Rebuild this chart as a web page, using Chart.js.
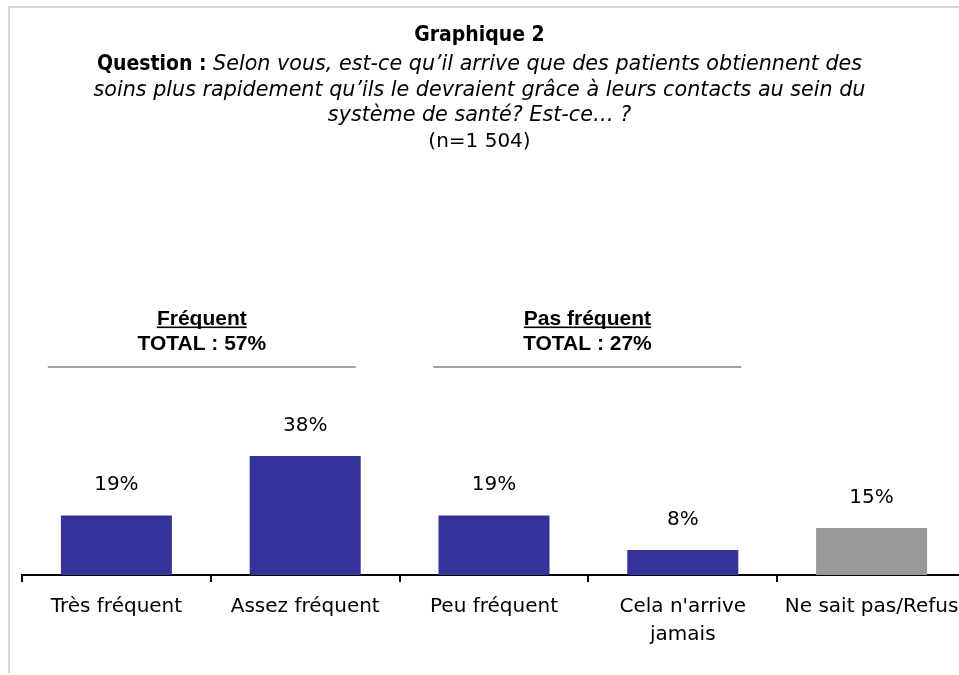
<!DOCTYPE html>
<html><head><meta charset="utf-8">
<script src="https://cdn.jsdelivr.net/npm/chart.js@4.4.1/dist/chart.umd.min.js"></script>
<style>
html,body{margin:0;padding:0;background:#fff;overflow:hidden;width:959px;height:675px}
#wrap{position:absolute;left:0;top:0;width:975px;height:675px}
</style></head><body>
<div id="wrap"><canvas id="c" width="975" height="675"></canvas></div>
<script>
// ---- data ----
const categories = ['Très fréquent', 'Assez fréquent', 'Peu fréquent', ["Cela n'arrive", 'jamais'], 'Ne sait pas/Refus'];
const values = [19, 38, 19, 8, 15];
const barColors = ['#333399', '#333399', '#333399', '#333399', '#999999'];
const groupNames = ['Fréquent', 'Pas fréquent'];
const groupTotals = ['TOTAL : 57%', 'TOTAL : 27%'];
const groupMembers = [[0, 1], [2, 3]];
const titleLines = [
  [{ t: 'Graphique 2', s: 'bold' }],
  [{ t: 'Question : ', s: 'bold' }, { t: 'Selon vous, est-ce qu’il arrive que des patients obtiennent des', s: 'italic' }],
  [{ t: 'soins plus rapidement qu’ils le devraient grâce à leurs contacts au sein du', s: 'italic' }],
  [{ t: 'système de santé? Est-ce… ?', s: 'italic' }],
  [{ t: '(n=1 504)', s: 'normal' }]
];

// ---- style ----
const FONT = "'DejaVu Sans', sans-serif";
const BOLDFONT = "'DejaVu Sans Condensed', 'DejaVu Sans', sans-serif";
const ARIAL = "'Liberation Sans', Arial, sans-serif";
const FS = 20;
const runFonts = { bold: 'bold 21px ' + BOLDFONT, italic: 'italic 20.7px ' + FONT, normal: '20px ' + FONT };
const titleBaselines = [41, 70, 96, 121, 147];
const CENTER_X = 479.5;
const groupShift = [-9, -1];

const decor = {
  id: 'decor',
  beforeDraw(chart) {
    const ctx = chart.ctx;
    ctx.save();
    ctx.fillStyle = '#fff';
    ctx.fillRect(0, 0, chart.width, chart.height);
    ctx.strokeStyle = '#d4d4d4';
    ctx.lineWidth = 2;
    ctx.beginPath();
    ctx.moveTo(9, 673); ctx.lineTo(9, 7); ctx.lineTo(chart.width, 7);
    ctx.stroke();
    // title
    ctx.fillStyle = '#000';
    ctx.textBaseline = 'alphabetic';
    ctx.textAlign = 'left';
    titleLines.forEach((runs, li) => {
      let total = 0;
      runs.forEach(r => { ctx.font = runFonts[r.s]; total += ctx.measureText(r.t).width; });
      let x = CENTER_X - total / 2;
      runs.forEach(r => { ctx.font = runFonts[r.s]; ctx.fillText(r.t, x, titleBaselines[li]); x += ctx.measureText(r.t).width; });
    });
    // group annotations
    const xs = chart.scales.x;
    groupMembers.forEach((g, gi) => {
      const cx = (xs.getPixelForValue(g[0]) + xs.getPixelForValue(g[1])) / 2 + groupShift[gi];
      ctx.textAlign = 'center';
      ctx.font = 'bold 21px ' + ARIAL;
      ctx.fillText(groupNames[gi], cx, 325);
      const w = ctx.measureText(groupNames[gi]).width;
      ctx.fillRect(cx - w / 2, 326.5, w, 1.6);
      ctx.fillText(groupTotals[gi], cx, 350);
      ctx.strokeStyle = '#a0a0a0';
      ctx.lineWidth = 2;
      ctx.beginPath();
      ctx.moveTo(cx - 154, 367); ctx.lineTo(cx + 154, 367);
      ctx.stroke();
    });
    ctx.restore();
  },
  afterDatasetsDraw(chart) {
    const ctx = chart.ctx;
    ctx.save();
    ctx.fillStyle = '#000';
    ctx.font = FS + 'px ' + FONT;
    ctx.textAlign = 'center';
    ctx.textBaseline = 'alphabetic';
    chart.getDatasetMeta(0).data.forEach((bar, i) => {
      ctx.fillText(values[i] + '%', bar.x, bar.y - 25);
    });
    ctx.restore();
  }
};

new Chart(document.getElementById('c'), {
  type: 'bar',
  data: {
    labels: categories,
    datasets: [{ data: values, backgroundColor: barColors, borderWidth: 0, barPercentage: 0.588, categoryPercentage: 1 }]
  },
  options: {
    responsive: false,
    animation: false,
    layout: { padding: { left: 22, right: 9, top: 387, bottom: 0 } },
    plugins: { legend: { display: false }, tooltip: { enabled: false }, title: { display: false } },
    scales: {
      y: { display: false, min: 0, max: 60 },
      x: {
        afterFit: s => { s.height = 100; },
        grid: { display: true, drawOnChartArea: false, drawTicks: true, tickLength: 7, color: '#000', lineWidth: 2 },
        border: { display: true, color: '#000', width: 2 },
        ticks: { color: '#000', font: { family: FONT, size: FS, lineHeight: 1.4 }, padding: 11, maxRotation: 0, autoSkip: false }
      }
    }
  },
  plugins: [decor]
});
</script>
</body></html>
